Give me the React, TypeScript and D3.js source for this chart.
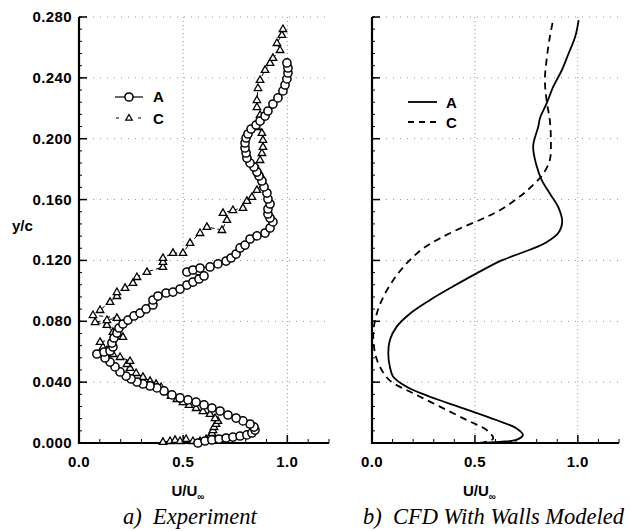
import React from "react";
import * as d3 from "d3";

// ---------- data ----------
// Experiment, station A (circles): [U/Uinf, y/c]
const expA: [number, number][] = [
  [0.571, 0.0], [0.605, 0.0013], [0.638, 0.002], [0.672, 0.0026], [0.706, 0.0033], [0.739, 0.0039],
  [0.773, 0.0046], [0.806, 0.0053], [0.83, 0.0066], [0.845, 0.0085], [0.84, 0.0105], [0.821, 0.0125],
  [0.787, 0.0145], [0.754, 0.0164], [0.715, 0.0184], [0.677, 0.021], [0.638, 0.023], [0.6, 0.025],
  [0.562, 0.0269], [0.523, 0.0283], [0.485, 0.0296], [0.446, 0.0316], [0.408, 0.0342], [0.374, 0.0362],
  [0.341, 0.0375], [0.307, 0.0388], [0.278, 0.0401], [0.25, 0.0421], [0.226, 0.044], [0.197, 0.0467],
  [0.173, 0.05], [0.149, 0.0532], [0.125, 0.0559], [0.086, 0.0585], [0.12, 0.0598], [0.149, 0.0605],
  [0.163, 0.0631], [0.158, 0.0657], [0.168, 0.069], [0.182, 0.0723], [0.192, 0.0756], [0.211, 0.0782],
  [0.235, 0.0808], [0.264, 0.0835], [0.293, 0.0854], [0.322, 0.0881], [0.355, 0.0907], [0.355, 0.094],
  [0.379, 0.0966], [0.418, 0.0986], [0.451, 0.0992], [0.485, 0.1012], [0.518, 0.1038], [0.547, 0.1058],
  [0.576, 0.1078], [0.6, 0.1098], [0.518, 0.1124], [0.547, 0.1137], [0.581, 0.115], [0.629, 0.1157],
  [0.667, 0.1177], [0.706, 0.1196], [0.73, 0.1216], [0.754, 0.1242], [0.773, 0.1282], [0.797, 0.1301],
  [0.821, 0.1341], [0.854, 0.1361], [0.893, 0.138], [0.917, 0.1413], [0.931, 0.1453], [0.917, 0.1479],
  [0.907, 0.1505], [0.907, 0.1538], [0.917, 0.1571], [0.907, 0.1604], [0.902, 0.1643], [0.888, 0.1683],
  [0.878, 0.1722], [0.864, 0.1755], [0.854, 0.1781], [0.84, 0.1814], [0.821, 0.184], [0.806, 0.1873],
  [0.802, 0.1906], [0.797, 0.1939], [0.797, 0.1972], [0.802, 0.2005], [0.811, 0.2031], [0.826, 0.2064],
  [0.85, 0.209], [0.869, 0.2116], [0.893, 0.2149], [0.907, 0.2182], [0.931, 0.2228], [0.955, 0.2268],
  [0.979, 0.2314], [0.989, 0.2353], [0.998, 0.2393], [1.003, 0.2432], [1.003, 0.2465], [0.998, 0.2498],
];

// Experiment, station C (triangles)
const expC: [number, number][] = [
  [0.403, 0.0007], [0.437, 0.0013], [0.461, 0.002], [0.485, 0.0013], [0.514, 0.0026], [0.547, 0.0013],
  [0.581, 0.0013], [0.61, 0.0026], [0.629, 0.0046], [0.638, 0.0066], [0.643, 0.0085], [0.648, 0.0105],
  [0.658, 0.0125], [0.667, 0.0145], [0.653, 0.0164], [0.629, 0.0191], [0.595, 0.021], [0.562, 0.023],
  [0.528, 0.025], [0.499, 0.0269], [0.47, 0.0289], [0.442, 0.0309], [0.418, 0.0335], [0.394, 0.0368],
  [0.37, 0.0388], [0.341, 0.0408], [0.307, 0.0434], [0.274, 0.046], [0.245, 0.0493], [0.23, 0.0519],
  [0.245, 0.0539], [0.197, 0.0565], [0.163, 0.0585], [0.134, 0.0611], [0.115, 0.0631], [0.101, 0.0664],
  [0.211, 0.0697], [0.163, 0.073], [0.134, 0.0776], [0.077, 0.0795], [0.134, 0.0808], [0.182, 0.0822],
  [0.067, 0.0841], [0.101, 0.0874], [0.149, 0.0927], [0.182, 0.0966], [0.182, 0.0992], [0.221, 0.1019],
  [0.259, 0.1052], [0.278, 0.1091], [0.326, 0.1124], [0.403, 0.1157], [0.403, 0.119], [0.403, 0.1216],
  [0.451, 0.1249], [0.499, 0.1249], [0.533, 0.1315], [0.581, 0.138], [0.614, 0.142], [0.686, 0.14],
  [0.71, 0.1466], [0.691, 0.1512], [0.739, 0.1531], [0.787, 0.1545], [0.806, 0.1591], [0.83, 0.1617],
  [0.854, 0.1663], [0.883, 0.1716], [0.878, 0.1748], [0.859, 0.1794], [0.869, 0.186], [0.878, 0.1906],
  [0.883, 0.1946], [0.883, 0.1992], [0.878, 0.2038], [0.854, 0.2077], [0.869, 0.2123], [0.869, 0.2156],
  [0.854, 0.2208], [0.854, 0.2254], [0.859, 0.2333], [0.869, 0.2386], [0.893, 0.2452], [0.917, 0.2498],
  [0.931, 0.2531], [0.965, 0.2583], [0.95, 0.2629], [0.974, 0.2682], [0.979, 0.2721],
];

// CFD, station A (solid)
const cfdA: [number, number][] = [
  [0.5, 0.0], [0.621, 0.0008], [0.701, 0.002], [0.733, 0.0053], [0.701, 0.0097], [0.604, 0.0151],
  [0.444, 0.0228], [0.282, 0.0304], [0.168, 0.037], [0.103, 0.0436], [0.087, 0.05], [0.079, 0.059],
  [0.087, 0.0677], [0.12, 0.0765], [0.184, 0.085], [0.282, 0.094], [0.395, 0.103], [0.508, 0.1115],
  [0.63, 0.12], [0.767, 0.127], [0.848, 0.132], [0.905, 0.138], [0.924, 0.1455], [0.905, 0.155],
  [0.864, 0.164], [0.824, 0.173], [0.8, 0.182], [0.783, 0.195], [0.808, 0.208], [0.816, 0.2135],
  [0.848, 0.223], [0.88, 0.234], [0.922, 0.245], [0.955, 0.256], [0.987, 0.267], [1.004, 0.278],
];

// CFD, station C (dashed)
const cfdC: [number, number][] = [
  [0.524, 0.0], [0.589, 0.003], [0.557, 0.0085], [0.46, 0.0151], [0.33, 0.0239], [0.2, 0.0327],
  [0.087, 0.041], [0.039, 0.05], [0.015, 0.059], [0.006, 0.072], [0.023, 0.085], [0.055, 0.096],
  [0.103, 0.107], [0.168, 0.118], [0.249, 0.128], [0.33, 0.1345], [0.427, 0.141], [0.524, 0.1466],
  [0.621, 0.153], [0.718, 0.162], [0.783, 0.1696], [0.832, 0.177], [0.864, 0.186], [0.869, 0.199],
  [0.864, 0.212], [0.848, 0.2254], [0.84, 0.2386], [0.848, 0.2517], [0.864, 0.267], [0.88, 0.278],
];

const yTicks = [0, 0.04, 0.08, 0.12, 0.16, 0.2, 0.24, 0.28];
const xMajor = [0, 0.5, 1.0];
const xMinor = [0.1, 0.2, 0.3, 0.4, 0.6, 0.7, 0.8, 0.9, 1.1, 1.2];
const legendNames = ["A", "C"];
const captions = ["a)  Experiment", "b)  CFD With Walls Modeled"];

// ---------- layout ----------
const W = 630;
const H = 531;
const yTop = 17;
const yBot = 443;
const FONT = "'Liberation Sans', Arial, sans-serif";
const SERIF = "'Liberation Serif', 'Times New Roman', serif";

const yScale = d3.scaleLinear().domain([0, 0.28]).range([yBot, yTop]);
const yMinor = d3.range(0, 0.2801, 0.008).map((v) => +v.toFixed(3));

function Panel({ x0, x1, labels }: { x0: number; x1: number; labels: boolean }) {
  const x = d3.scaleLinear().domain([0, 1.2]).range([x0, x1]);
  return (
    <g>
      {/* grid */}
      {yTicks.slice(1).map((t) => (
        <line key={"gy" + t} x1={x0} x2={x1} y1={yScale(t)} y2={yScale(t)} stroke="#777" strokeWidth={0.8} strokeDasharray="1 6" />
      ))}
      {[0.5, 1.0].map((t) => (
        <line key={"gx" + t} x1={x(t)} x2={x(t)} y1={yTop} y2={yBot} stroke="#777" strokeWidth={0.8} strokeDasharray="1 3" />
      ))}
      {/* axes */}
      <line x1={x0} x2={x0} y1={yTop} y2={yBot + 1} stroke="#000" strokeWidth={2.2} />
      <line x1={x0 - 1} x2={x1} y1={yBot} y2={yBot} stroke="#000" strokeWidth={2.2} />
      {yTicks.map((t) => (
        <line key={"yt" + t} x1={x0} x2={x0 + 8} y1={yScale(t)} y2={yScale(t)} stroke="#000" strokeWidth={1.5} />
      ))}
      {yMinor.map((t) => (
        <line key={"ym" + t} x1={x0} x2={x0 + 3} y1={yScale(t)} y2={yScale(t)} stroke="#000" strokeWidth={1} />
      ))}
      {xMajor.map((t) => (
        <line key={"xt" + t} x1={x(t)} x2={x(t)} y1={yBot} y2={yBot - 8} stroke="#000" strokeWidth={1.5} />
      ))}
      {xMinor.map((t) => (
        <line key={"xm" + t} x1={x(t)} x2={x(t)} y1={yBot} y2={yBot - 4} stroke="#000" strokeWidth={1} />
      ))}
      {labels &&
        yTicks.map((t) => (
          <text key={"yl" + t} x={x0 - 7} y={yScale(t) + 5} textAnchor="end" fontFamily={FONT} fontWeight="bold" fontSize={15} letterSpacing={0.4}>
            {d3.format(".3f")(t)}
          </text>
        ))}
      {xMajor.map((t) => (
        <text key={"xl" + t} x={x(t)} y={467} textAnchor="middle" fontFamily={FONT} fontWeight="bold" fontSize={15} letterSpacing={0.4}>
          {d3.format(".1f")(t)}
        </text>
      ))}
      <text x={(x0 + x1) / 2 - 16} y={496} textAnchor="middle" fontFamily={FONT} fontWeight="bold" fontSize={15}>
        U/U
        <tspan fontSize={10} dy={4}>∞</tspan>
      </text>
    </g>
  );
}

function triPath(cx: number, cy: number, s: number) {
  const h = s * 0.87;
  return `M${cx},${cy - h * 0.62}L${cx + s / 2},${cy + h * 0.38}L${cx - s / 2},${cy + h * 0.38}Z`;
}

export default function App() {
  const xL = d3.scaleLinear().domain([0, 1.2]).range([79, 329]);
  const xR = d3.scaleLinear().domain([0, 1.2]).range([372, 619]);
  const lineL = d3.line<[number, number]>().x((d) => xL(d[0])).y((d) => yScale(d[1]));
  const lineR = d3.line<[number, number]>().x((d) => xR(d[0])).y((d) => yScale(d[1])).curve(d3.curveCatmullRom);

  return (
    <svg width={W} height={H} style={{ position: "absolute", left: 0, top: 0, background: "#fff" }}>
      <rect width={W} height={H} fill="#fff" />
      <Panel x0={79} x1={329} labels={true} />
      <Panel x0={372} x1={619} labels={false} />

      <text x={12} y={231} fontFamily={FONT} fontWeight="bold" fontSize={15}>y/c</text>

      {/* experiment lines */}
      <path d={lineL(expC) || ""} fill="none" stroke="#000" strokeWidth={1} strokeDasharray="4 3" />
      <path d={lineL(expA) || ""} fill="none" stroke="#000" strokeWidth={1.1} />
      {expC.map((d, i) => (
        <path key={"c" + i} d={triPath(xL(d[0]), yScale(d[1]), 7.5)} fill="#fff" stroke="#000" strokeWidth={1.3} />
      ))}
      {expA.map((d, i) => (
        <circle key={"a" + i} cx={xL(d[0])} cy={yScale(d[1])} r={4.1} fill="#fff" stroke="#000" strokeWidth={1.5} />
      ))}

      {/* CFD lines */}
      <path d={lineR(cfdC) || ""} fill="none" stroke="#000" strokeWidth={1.8} strokeDasharray="7 5" />
      <path d={lineR(cfdA) || ""} fill="none" stroke="#000" strokeWidth={1.8} />

      {/* legend left */}
      <line x1={115} x2={143} y1={97} y2={97} stroke="#000" strokeWidth={1.2} />
      <circle cx={129} cy={97} r={4.1} fill="#fff" stroke="#000" strokeWidth={1.5} />
      <line x1={115} x2={143} y1={118} y2={118} stroke="#000" strokeWidth={1.2} strokeDasharray="3 8" strokeDashoffset={-1} />
      <path d={triPath(129, 118, 6.5)} fill="#fff" stroke="#000" strokeWidth={1.2} />
      <text x={153} y={102} fontFamily={FONT} fontWeight="bold" fontSize={15}>{legendNames[0]}</text>
      <text x={153} y={124} fontFamily={FONT} fontWeight="bold" fontSize={15}>{legendNames[1]}</text>

      {/* legend right */}
      <line x1={408} x2={437} y1={102} y2={102} stroke="#000" strokeWidth={1.8} />
      <line x1={408} x2={437} y1={122} y2={122} stroke="#000" strokeWidth={1.8} strokeDasharray="6 5" />
      <text x={446} y={108} fontFamily={FONT} fontWeight="bold" fontSize={15}>{legendNames[0]}</text>
      <text x={446} y={128} fontFamily={FONT} fontWeight="bold" fontSize={15}>{legendNames[1]}</text>

      {/* captions */}
      <text x={123} y={524} fontFamily={SERIF} fontStyle="italic" fontSize={22.5} style={{ whiteSpace: "pre" }}>{captions[0]}</text>
      <text x={363} y={524} fontFamily={SERIF} fontStyle="italic" fontSize={22.5} style={{ whiteSpace: "pre" }}>{captions[1]}</text>
    </svg>
  );
}
